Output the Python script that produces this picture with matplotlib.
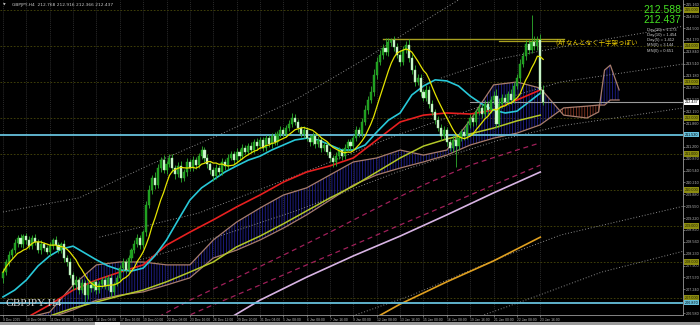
import matplotlib
matplotlib.use("Agg")
import matplotlib.pyplot as plt
import numpy as np
import pandas as pd

plt.rcParams['hatch.linewidth'] = 0.6

# ---------------- data ----------------
first_open = 207.55
closes = [
    207.72, 208.00, 208.19, 208.33, 208.53, 208.67, 208.50, 208.72, 208.61, 208.44,
    208.67, 208.56, 208.33, 208.50, 208.39, 208.28, 208.44, 208.61, 208.47, 208.33,
    208.50, 208.11, 208.00, 207.64, 207.36, 207.50, 207.22, 207.42, 207.08, 207.36,
    207.28, 207.44, 207.22, 207.39, 207.50, 207.33, 207.56, 207.17, 207.39, 207.56,
    207.83, 208.00, 207.78, 208.11, 208.33, 208.50, 208.67, 208.47, 208.83, 209.58,
    210.00, 210.33, 210.14, 210.61, 210.83, 210.56, 210.72, 210.89, 210.61, 210.44,
    210.67, 210.33, 210.50, 210.78, 210.61, 210.83, 210.69, 210.94, 211.11, 210.89,
    210.72, 210.56, 210.39, 210.61, 210.50, 210.78, 210.67, 210.89, 211.00, 210.83,
    211.06, 210.94, 211.17, 211.06, 211.22, 211.11, 211.33, 211.22, 211.39, 211.17,
    211.44, 211.28, 211.50, 211.33, 211.56, 211.67, 211.56, 211.72, 211.83, 212.00,
    211.89, 211.72, 211.56, 211.67, 211.44, 211.33, 211.50, 211.28, 211.39, 211.17,
    211.25, 211.06, 210.89, 210.78, 210.94, 211.11, 210.94, 211.17, 211.33, 211.22,
    211.44, 211.67, 211.56, 211.89, 212.22, 212.50, 212.72, 213.19, 213.56, 213.75,
    213.94, 213.83, 214.11, 214.17, 213.97, 213.75, 213.56, 213.89, 214.03, 213.67,
    213.33, 213.00, 213.11, 212.72, 212.56, 212.78, 212.39, 212.17, 211.94, 211.72,
    211.50, 211.67, 211.33, 211.17, 211.39, 211.22, 211.44, 211.61, 211.50, 211.81,
    212.00, 211.89, 212.17, 212.28, 212.11, 212.39, 212.22, 212.50, 212.61, 211.83,
    212.39, 212.56, 212.44, 212.67, 212.50, 212.89, 213.11, 213.50, 213.72, 214.06,
    213.89, 214.11, 214.00, 214.17, 212.768, 212.437]
upper_wick = [
    0.10, 0.08, 0.12, 0.06, 0.10, 0.08, 0.12, 0.06, 0.09, 0.10,
    0.07, 0.12, 0.08, 0.10, 0.06, 0.09, 0.11, 0.07, 0.10, 0.08,
    0.06, 0.10, 0.08, 0.12, 0.09, 0.10, 0.07, 0.11, 0.08, 0.12,
    0.09, 0.06, 0.10, 0.08, 0.07, 0.11, 0.09, 0.10, 0.06, 0.08,
    0.10, 0.12, 0.08, 0.09, 0.07, 0.10, 0.11, 0.08, 0.06, 0.12,
    0.14, 0.10, 0.16, 0.12, 0.10, 0.14, 0.09, 0.12, 0.10, 0.08,
    0.10, 0.14, 0.09, 0.11, 0.08, 0.12, 0.10, 0.09, 0.12, 0.08,
    0.10, 0.07, 0.09, 0.12, 0.08, 0.10, 0.09, 0.11, 0.08, 0.07,
    0.10, 0.08, 0.11, 0.07, 0.09, 0.10, 0.08, 0.12, 0.09, 0.07,
    0.10, 0.08, 0.09, 0.11, 0.07, 0.10, 0.08, 0.09, 0.12, 0.14,
    0.10, 0.08, 0.07, 0.10, 0.09, 0.08, 0.11, 0.07, 0.10, 0.08,
    0.09, 0.07, 0.10, 0.08, 0.12, 0.09, 0.07, 0.10, 0.08, 0.09,
    0.10, 0.12, 0.08, 0.11, 0.14, 0.12, 0.16, 0.18, 0.14, 0.15,
    0.12, 0.28, 0.10, 0.05, 0.12, 0.10, 0.14, 0.12, 0.10, 0.16,
    0.12, 0.14, 0.10, 0.12, 0.09, 0.14, 0.10, 0.12, 0.09, 0.11,
    0.10, 0.12, 0.09, 0.10, 0.14, 0.10, 0.12, 0.09, 0.11, 0.10,
    0.12, 0.10, 0.09, 0.12, 0.10, 0.11, 0.09, 0.12, 0.14, 0.20,
    0.16, 0.10, 0.12, 0.09, 0.14, 0.12, 0.10, 0.14, 0.12, 0.10,
    0.12, 0.75, 0.18, 0.10, 0.15, 0.148]
lower_wick = [
    0.12, 0.08, 0.10, 0.09, 0.07, 0.11, 0.08, 0.10, 0.12, 0.07,
    0.09, 0.10, 0.08, 0.12, 0.09, 0.07, 0.10, 0.08, 0.11, 0.09,
    0.08, 0.10, 0.12, 0.09, 0.14, 0.10, 0.12, 0.09, 0.19, 0.10,
    0.11, 0.08, 0.12, 0.09, 0.10, 0.08, 0.11, 0.14, 0.09, 0.07,
    0.08, 0.10, 0.09, 0.08, 0.10, 0.07, 0.09, 0.11, 0.08, 0.10,
    0.09, 0.12, 0.10, 0.08, 0.11, 0.09, 0.12, 0.08, 0.10, 0.13,
    0.09, 0.10, 0.08, 0.11, 0.09, 0.07, 0.10, 0.08, 0.09, 0.11,
    0.10, 0.12, 0.14, 0.09, 0.10, 0.08, 0.11, 0.09, 0.07, 0.10,
    0.08, 0.10, 0.09, 0.07, 0.10, 0.08, 0.09, 0.11, 0.08, 0.10,
    0.09, 0.08, 0.10, 0.07, 0.09, 0.08, 0.10, 0.09, 0.07, 0.08,
    0.09, 0.10, 0.08, 0.11, 0.09, 0.12, 0.08, 0.10, 0.09, 0.11,
    0.10, 0.09, 0.12, 0.14, 0.10, 0.08, 0.11, 0.09, 0.08, 0.10,
    0.09, 0.08, 0.10, 0.09, 0.08, 0.10, 0.09, 0.12, 0.10, 0.08,
    0.10, 0.09, 0.12, 0.10, 0.11, 0.09, 0.12, 0.10, 0.09, 0.11,
    0.10, 0.12, 0.09, 0.11, 0.10, 0.09, 0.12, 0.10, 0.11, 0.09,
    0.10, 0.09, 0.12, 0.10, 0.11, 0.58, 0.10, 0.09, 0.11, 0.08,
    0.09, 0.10, 0.08, 0.09, 0.10, 0.08, 0.11, 0.09, 0.10, 0.12,
    0.08, 0.10, 0.09, 0.08, 0.10, 0.09, 0.08, 0.10, 0.09, 0.11,
    0.10, 0.09, 0.11, 0.10, 0.10, 0.071]

time_labels = ["9 Dec 2025", "10 Dec 08:00", "11 Dec 16:00", "15 Dec 00:00", "16 Dec 08:00",
               "17 Dec 16:00", "19 Dec 00:00", "22 Dec 08:00", "23 Dec 16:00", "26 Dec 12:00",
               "29 Dec 20:00", "31 Dec 04:00", "5 Jan 08:00", "6 Jan 08:00", "7 Jan 16:00",
               "9 Jan 00:00", "12 Jan 08:00", "13 Jan 16:00", "15 Jan 00:00", "16 Jan 08:00",
               "19 Jan 16:00", "21 Jan 00:00", "22 Jan 08:00", "23 Jan 16:00"]

# indicator lines (bar index, price)
cyan_idx = list(range(0, 185, 4))
cyan_val = [207.03, 207.22, 207.50, 207.89, 208.17, 208.36, 208.44, 208.25, 208.06, 207.89,
            207.78, 207.75, 207.83, 208.17, 208.61, 209.17, 209.72, 210.06, 210.28, 210.50,
            210.67, 210.83, 210.94, 211.11, 211.25, 211.39, 211.44, 211.39, 211.25, 211.11,
            211.11, 211.25, 211.61, 211.94, 212.14, 212.64, 212.89, 213.06, 213.03, 212.89,
            212.61, 212.39, 212.22, 212.14, 212.19, 212.44, 212.69]
red_idx = list(range(0, 185, 8))
red_val = [206.11, 206.45, 206.81, 207.22, 207.50, 207.72, 207.92, 208.47, 208.83, 209.17,
           209.53, 209.86, 210.22, 210.50, 210.67, 210.89, 211.39, 211.89, 212.08, 212.14,
           212.11, 212.22, 212.50, 212.78]
olive_idx = list(range(0, 185, 8))
olive_val = [205.97, 206.25, 206.50, 206.72, 206.89, 207.06, 207.22, 207.45, 207.72, 208.00,
             208.42, 208.72, 209.06, 209.42, 209.78, 210.11, 210.50, 210.89, 211.22, 211.42,
             211.56, 211.72, 211.92, 212.08]
lav_idx = [72, 88, 104, 120, 136, 152, 168, 184]
lav_val = [206.17, 206.94, 207.58, 208.17, 208.72, 209.31, 209.92, 210.50]
orange_idx = [120, 136, 152, 168, 184]
orange_val = [206.11, 206.83, 207.45, 208.03, 208.69]
dash1_idx = [48, 64, 80, 96, 112, 128, 144, 160, 176, 184]
dash1_val = [206.25, 206.94, 207.56, 208.19, 208.83, 209.50, 210.14, 210.69, 211.11, 211.31]
dash2_idx = [56, 72, 88, 104, 120, 136, 152, 168, 184]
dash2_val = [206.25, 206.81, 207.36, 207.92, 208.47, 209.03, 209.58, 210.14, 210.69]

dot_lines = [
    ([0, 26, 50, 74, 100, 125, 142, 156], [209.39, 209.78, 210.69, 211.53, 212.50, 213.69, 214.58, 215.28]),
    ([33, 67, 101, 135, 170, 191, 233], [208.69, 209.36, 210.42, 211.53, 212.50, 213.00, 213.50]),
    ([47, 67, 101, 135, 170, 191, 233], [208.06, 208.53, 209.44, 210.50, 211.39, 211.78, 212.28]),
    ([118, 140, 170, 191, 233], [206.45, 207.08, 208.11, 208.75, 209.55]),
    ([162, 183, 205, 233], [206.45, 207.06, 207.72, 208.30]),
    ([150, 168, 195, 233], [213.11, 213.61, 214.03, 214.55]),
]

kumo_idx = [0, 8, 16, 24, 32, 40, 48, 56, 64, 72, 80, 88, 96, 104, 112, 120, 128, 136,
            144, 152, 160, 168, 176, 184, 192, 200, 204, 206, 208, 211]
span_a = [206.45, 206.45, 206.61, 207.36, 207.92, 208.00, 208.00, 207.92, 207.92, 208.61,
          209.11, 209.50, 209.86, 210.06, 210.42, 210.78, 210.89, 211.11, 210.97, 211.11,
          211.94, 212.92, 213.00, 212.83, 212.08, 212.00, 212.17, 213.33, 213.47, 212.78]
span_b = [206.39, 206.39, 206.45, 206.67, 206.94, 207.08, 207.17, 207.36, 207.56, 208.11,
          208.33, 208.61, 208.94, 209.31, 209.72, 210.14, 210.42, 210.61, 210.78, 210.97,
          211.25, 211.44, 211.58, 211.81, 212.28, 212.33, 212.36, 212.36, 212.50, 212.50]

blue_levels = [211.53, 206.87]
resistance = 214.19
bid = 212.437
axis_labels = [206.58 + 0.33 * k for k in range(27)]
round_levels = [207, 208, 209, 210, 211, 212, 213, 214, 215]
info_lines = ["Day(20) = 1.173", "Day(10) = 1.454", "Day(5) = 1.412", "MN(0) = 3.144", "MN(0) = 0.651"]

# ---------------- figure ----------------
W, H = 700, 325
fig = plt.figure(figsize=(7, 3.25), dpi=100, facecolor='black')
ax = fig.add_axes([0, 10 / H, 683 / W, 315 / H], facecolor='black')
ymax = 215.278
ymin = ymax - 315 / 36.0
ax.set_ylim(ymin, ymax)
ax.set_xlim(-3 / 2.92, 680 / 2.92)

# grid
for k in range(len(time_labels)):
    ax.axvline(8 * k, color='#3a3a3a', lw=0.5, ls=(0, (1.5, 1.5)), zorder=0)
for lv in round_levels:
    ax.axhline(lv, color='#48480a', lw=0.6, ls=(0, (2, 2)), zorder=0)

# ichimoku cloud
kx = np.array(kumo_idx, float)
A = np.array(span_a)
B = np.array(span_b)
ax.fill_between(kx, A, B, where=A >= B, interpolate=True, facecolor='none',
                edgecolor='#20208e', hatch='||||||', linewidth=0, zorder=1)
ax.fill_between(kx, A, B, where=A < B, interpolate=True, facecolor='none',
                edgecolor='#8c3a26', hatch='||||||', linewidth=0, zorder=1)
ax.plot(kx, A, color='#a87c6c', lw=0.9, zorder=2)
ax.plot(kx, B, color='#a87c6c', lw=0.9, zorder=2)

# dotted envelopes
for xs, ys in dot_lines:
    ax.plot(xs, ys, color='#8c8c8c', lw=0.7, ls=(0, (1, 2)), zorder=2)

# slow lines
ax.plot(dash1_idx, dash1_val, color='#a0205a', lw=0.9, ls=(0, (4, 3)), zorder=2)
ax.plot(dash2_idx, dash2_val, color='#a0205a', lw=0.9, ls=(0, (4, 3)), zorder=2)
ax.plot(lav_idx, lav_val, color='#d8b4e4', lw=1.2, zorder=2)
ax.plot(orange_idx, orange_val, color='#e0a020', lw=1.2, zorder=2)
ax.plot(olive_idx, olive_val, color='#b4c828', lw=1.1, zorder=3)
ax.plot(red_idx, red_val, color='#e82020', lw=1.2, zorder=3)
ax.plot(cyan_idx, cyan_val, color='#28c8d8', lw=1.2, zorder=3)

# horizontal lines
for lv in blue_levels:
    ax.axhline(lv, color='#66c0dc', lw=1.3, zorder=4)
ax.plot([130, 192], [resistance, resistance], color='#a8a020', lw=1.0, zorder=4)
ax.plot([170, 192], [resistance - 0.06, resistance - 0.06], color='#a8a020', lw=0.9, zorder=4)
ax.plot([160, 233], [bid, bid], color='#9a9a9a', lw=0.8, zorder=4)

# candles
c = np.array(closes)
o = np.array([first_open] + closes[:-1])
hi = np.maximum(o, c) + np.array(upper_wick)
lo = np.minimum(o, c) - np.array(lower_wick)
x = np.arange(len(c))
ax.vlines(x, lo, hi, color='#2fb02f', lw=0.6, zorder=5)
bull = c >= o
bodyh = np.abs(c - o)
bodyh = np.where(bodyh < 0.02, 0.02, bodyh)
ax.bar(x[bull], bodyh[bull], bottom=np.minimum(o, c)[bull], width=0.7,
       color='#1e9e1e', edgecolor='#2fb02f', linewidth=0.3, zorder=6)
ax.bar(x[~bull], bodyh[~bull], bottom=np.minimum(o, c)[~bull], width=0.7,
       color='#d4f8d4', edgecolor='#9ee89e', linewidth=0.3, zorder=6)

# fast yellow MA computed from closes
yel = pd.Series(closes).rolling(9, min_periods=1).mean()
ax.plot(x, yel, color='#e4e400', lw=0.9, zorder=7)

# axes styling
for s in ['top', 'left']:
    ax.spines[s].set_visible(False)
for s in ['right', 'bottom']:
    ax.spines[s].set_color('#9a9a9a')
    ax.spines[s].set_linewidth(0.6)
ax.yaxis.tick_right()
ax.set_yticks(axis_labels)
ax.set_yticklabels([f"{v:.3f}" for v in axis_labels], family='Liberation Sans')
ax.set_xticks([8 * k for k in range(len(time_labels))])
ax.set_xticklabels(time_labels, family='Liberation Sans')
ax.tick_params(axis='y', colors='#b8b8b8', labelsize=2.7, length=1.2, width=0.4, pad=0.6)
ax.tick_params(axis='x', colors='#b8b8b8', labelsize=2.4, length=1.5, width=0.4, pad=1)
for lab in ax.get_xticklabels():
    lab.set_ha('left')

ytr = ax.get_yaxis_transform()
for lv in round_levels:
    ax.text(1.003, lv, f"{lv:.3f}", transform=ytr, fontsize=2.7, color='#202000',
            va='center', ha='left', clip_on=False, zorder=9, family='Liberation Sans',
            bbox=dict(facecolor='#8c8c10', edgecolor='none', pad=0.4))
for lv in blue_levels:
    ax.text(1.003, lv, f"{lv:.3f}", transform=ytr, fontsize=2.7, color='black',
            va='center', ha='left', clip_on=False, zorder=9, family='Liberation Sans',
            bbox=dict(facecolor='#66c0dc', edgecolor='none', pad=0.4))
ax.text(1.003, bid, f"{bid:.3f}", transform=ytr, fontsize=2.7, color='black',
        va='center', ha='left', clip_on=False, zorder=9, family='Liberation Sans',
        bbox=dict(facecolor='white', edgecolor='none', pad=0.4))

# texts
fig.text(3 / W, 1 - 5 / H, "▼", fontsize=2.5, color='#c0c0c0', va='center', ha='left')
fig.text(12 / W, 1 - 5 / H, "GBPJPY,H4  212.768 212.916 212.366 212.437", fontsize=3.2,
         color='#c8c8c8', va='center', ha='left')
fig.text(5 / W, 1 - 303 / H, "GBPJPY-H4", fontsize=8, color='#d0d0d0', va='center', ha='left',
         family='Liberation Serif')
fig.text(681 / W, 1 - 10 / H, "212.588", fontsize=7.5, color='#44e022', va='center', ha='right',
         family='Liberation Sans')
fig.text(681 / W, 1 - 20 / H, "212.437", fontsize=7.5, color='#44e022', va='center', ha='right',
         family='Liberation Sans')
for k, t in enumerate(info_lines):
    fig.text(647 / W, 1 - (29.5 + 5.3 * k) / H, t, fontsize=3.0, color='#d0d0d0', va='center',
             ha='left', family='Liberation Sans')
ax.text(189.3, 214.06, "(A) なんとなく十字架っぽい", fontsize=4.7, color='#e8c800', va='center',
        ha='left', family=['Noto Sans CJK JP', 'DejaVu Sans'], zorder=9)

# bottom bar
fig.patches.append(plt.Rectangle((0, 0), 1, 3 / H, transform=fig.transFigure,
                                 facecolor='#9a9a9a', edgecolor='none'))
fig.patches.append(plt.Rectangle((95 / W, 0), 25 / W, 3 / H, transform=fig.transFigure,
                                 facecolor='#f0f0f0', edgecolor='none'))

fig.savefig("out.png", dpi=100, facecolor='black')
